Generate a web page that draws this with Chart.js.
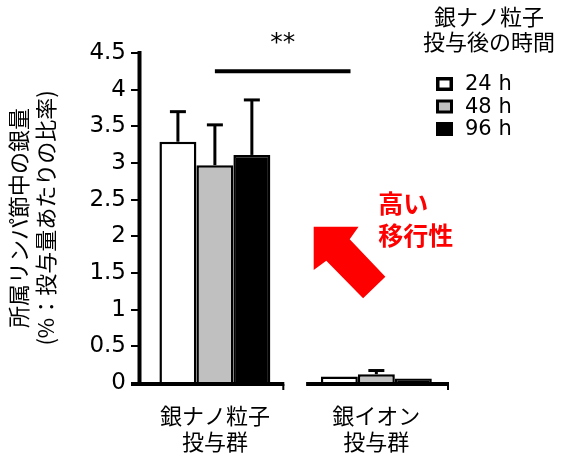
<!DOCTYPE html>
<html><head><meta charset="utf-8">
<script src="https://cdn.jsdelivr.net/npm/chart.js@4.4.1/dist/chart.umd.min.js"></script>
<style>html,body{margin:0;padding:0;background:#fff;}#wrap{width:578px;height:461px;position:relative;}</style>
</head><body><div id="wrap"><canvas id="c" width="578" height="461"></canvas></div>
<script>
// ---- data ----
const CATEGORIES = [['銀ナノ粒子', '投与群'], ['銀イオン', '投与群']];
const SERIES_LABELS = ['24 h', '48 h', '96 h'];
const VALUES_24H = [3.29, 0.09];
const VALUES_48H = [2.97, 0.12];
const VALUES_96H = [3.11, 0.06];
const ERRORS_24H = [0.41, 0];
const ERRORS_48H = [0.55, 0.05];
const ERRORS_96H = [0.75, 0];
const Y_TICKS = ['0', '0.5', '1', '1.5', '2', '2.5', '3', '3.5', '4', '4.5'];
const Y_TITLE = ['所属リンパ節中の銀量', '(%：投与量あたりの比率)'];
const LEGEND_TITLE = ['銀ナノ粒子', '投与後の時間'];
const SIG_LABEL = '**';
const NOTE_TEXT = ['高い', '移行性'];

// ---- styles ----
const FONT_LATIN = "'DejaVu Sans', 'Noto Sans CJK JP', sans-serif";
const FONT_CJK = "'Noto Sans CJK JP', 'DejaVu Sans', sans-serif";
const FILLS = ['#ffffff', '#c0c0c0', '#000000'];
const RED = '#ff0000';

const SERIES = [VALUES_24H, VALUES_48H, VALUES_96H];
const ERRORS = [ERRORS_24H, ERRORS_48H, ERRORS_96H];

const datasets = SERIES.map((vals, i) => ({
  label: SERIES_LABELS[i],
  data: vals.map((v, j) => ({ x: j, y: v })),
  errors: ERRORS[i],
  backgroundColor: FILLS[i],
  borderColor: '#000',
  borderWidth: 2.5,
  categoryPercentage: 0.687,
  barPercentage: 1.0
}));

// annotation geometry in data units (x: category index, y: value)
const SIG = { x0: 0, x1: 0.84, y: 4.25, textY: 4.63 };
const ARROW = [[0.612, 2.132], [0.890, 2.132], [0.835, 1.960], [1.056, 1.450], [0.918, 1.155], [0.690, 1.668], [0.612, 1.541]];
const NOTE_POS = { x: 1.012, y: 2.45 };
const AXIS_BREAK = [0.43, 0.565];

const errorBars = {
  id: 'errorBars',
  afterDatasetsDraw(chart) {
    const ctx = chart.ctx, y = chart.scales.y;
    ctx.save();
    ctx.strokeStyle = '#000';
    chart.data.datasets.forEach((ds, di) => {
      const meta = chart.getDatasetMeta(di);
      meta.data.forEach((bar, j) => {
        const e = ds.errors[j];
        if (!e) return;
        const v = ds.data[j].y;
        const yTop = y.getPixelForValue(v + e);
        const yBase = y.getPixelForValue(v);
        ctx.lineWidth = 3;
        ctx.beginPath();
        ctx.moveTo(bar.x, yBase);
        ctx.lineTo(bar.x, yTop);
        ctx.stroke();
        ctx.beginPath();
        ctx.moveTo(bar.x - 8, yTop);
        ctx.lineTo(bar.x + 8, yTop);
        ctx.stroke();
      });
    });
    ctx.restore();
  }
};

const axesLines = {
  id: 'axesLines',
  afterDatasetsDraw(chart) {
    const ctx = chart.ctx, x = chart.scales.x, y = chart.scales.y, ca = chart.chartArea;
    const yb = ca.bottom + 1;
    const yl = ca.left + 0.5;
    ctx.save();
    ctx.strokeStyle = '#000';
    ctx.lineWidth = 4;
    ctx.beginPath();
    ctx.moveTo(yl, y.getPixelForValue(y.max) - 2);
    ctx.lineTo(yl, yb + 2);
    ctx.stroke();
    const segs = [[x.min, AXIS_BREAK[0]], [AXIS_BREAK[1], x.max]];
    segs.forEach(([a, b], k) => {
      const xa = k === 0 ? ca.left - 8 : x.getPixelForValue(a);
      const xb = x.getPixelForValue(b);
      ctx.lineWidth = 4;
      ctx.beginPath();
      ctx.moveTo(xa, yb);
      ctx.lineTo(xb, yb);
      ctx.stroke();
      ctx.lineWidth = 2;
      ctx.beginPath();
      ctx.moveTo(xb - 1, yb);
      ctx.lineTo(xb - 1, yb + 6);
      ctx.stroke();
    });
    ctx.restore();
  }
};

const annotations = {
  id: 'annotations',
  afterDraw(chart) {
    const ctx = chart.ctx, x = chart.scales.x, y = chart.scales.y;
    ctx.save();
    ctx.strokeStyle = '#000';
    ctx.lineWidth = 4;
    ctx.beginPath();
    ctx.moveTo(x.getPixelForValue(SIG.x0), y.getPixelForValue(SIG.y));
    ctx.lineTo(x.getPixelForValue(SIG.x1), y.getPixelForValue(SIG.y));
    ctx.stroke();
    ctx.fillStyle = '#000';
    ctx.font = '25px ' + FONT_LATIN;
    ctx.textAlign = 'center';
    ctx.textBaseline = 'middle';
    ctx.fillText(SIG_LABEL, x.getPixelForValue((SIG.x0 + SIG.x1) / 2), y.getPixelForValue(SIG.textY));
    ctx.fillStyle = RED;
    ctx.beginPath();
    ARROW.forEach(([ax, ay], i) => {
      const px = x.getPixelForValue(ax), py = y.getPixelForValue(ay);
      if (i === 0) ctx.moveTo(px, py); else ctx.lineTo(px, py);
    });
    ctx.closePath();
    ctx.fill();
    ctx.font = 'bold 25px ' + FONT_CJK;
    ctx.textAlign = 'left';
    const nx = x.getPixelForValue(NOTE_POS.x), ny = y.getPixelForValue(NOTE_POS.y);
    NOTE_TEXT.forEach((t, i) => ctx.fillText(t, nx, ny + i * 32));
    ctx.restore();
  }
};

const customLegend = {
  id: 'customLegend',
  afterDraw(chart) {
    const ctx = chart.ctx;
    ctx.save();
    ctx.fillStyle = '#000';
    ctx.textBaseline = 'middle';
    ctx.textAlign = 'center';
    ctx.font = '22px ' + FONT_CJK;
    LEGEND_TITLE.forEach((t, i) => ctx.fillText(t, 489, 17 + i * 25));
    chart.data.datasets.forEach((ds, i) => {
      const cy = 84 + i * 22.5;
      const bx = 436, bw = 17, bh = 14;
      ctx.fillStyle = '#000';
      ctx.fillRect(bx, cy - bh / 2, bw, bh);
      const inset = i === 0 ? 3.5 : 3;
      if (ds.backgroundColor !== '#000000') {
        ctx.fillStyle = ds.backgroundColor;
        ctx.fillRect(bx + inset, cy - bh / 2 + inset, bw - 2 * inset, bh - 2 * inset);
      }
      ctx.fillStyle = '#000';
      ctx.textAlign = 'left';
      ctx.font = '21px ' + FONT_LATIN;
      ctx.fillText(ds.label, 465, cy + 1);
    });
    ctx.restore();
  }
};

new Chart(document.getElementById('c'), {
  type: 'bar',
  data: { datasets },
  options: {
    responsive: false,
    animation: false,
    devicePixelRatio: 1,
    layout: { padding: { top: 53, right: 129, bottom: 0, left: 0 } },
    plugins: { legend: { display: false }, tooltip: { enabled: false } },
    scales: {
      x: {
        type: 'linear',
        min: -0.47,
        max: 1.45,
        offset: false,
        afterBuildTicks: s => { s.ticks = CATEGORIES.map((_, i) => ({ value: i })); },
        ticks: {
          callback: v => CATEGORIES[v],
          font: { family: FONT_CJK, size: 22, lineHeight: 1.2 },
          color: '#000',
          padding: 19,
          maxRotation: 0,
          autoSkip: false
        },
        grid: { display: false, drawTicks: false },
        border: { display: false },
        afterFit: s => { s.height = 78; }
      },
      y: {
        min: 0,
        max: 4.5,
        ticks: {
          stepSize: 0.5,
          callback: (v, i) => Y_TICKS[i],
          font: { family: FONT_LATIN, size: 23 },
          color: '#000',
          padding: 5
        },
        grid: { drawOnChartArea: false, drawTicks: true, tickLength: 8, color: '#000', lineWidth: 2 },
        border: { display: false },
        title: {
          display: true,
          text: Y_TITLE,
          font: { family: FONT_CJK, size: 22, lineHeight: 27 / 22 },
          color: '#000',
          padding: { top: 5, bottom: 0 }
        },
        afterFit: s => { s.width = 139; }
      }
    }
  },
  plugins: [errorBars, axesLines, annotations, customLegend]
});
</script></body></html>
